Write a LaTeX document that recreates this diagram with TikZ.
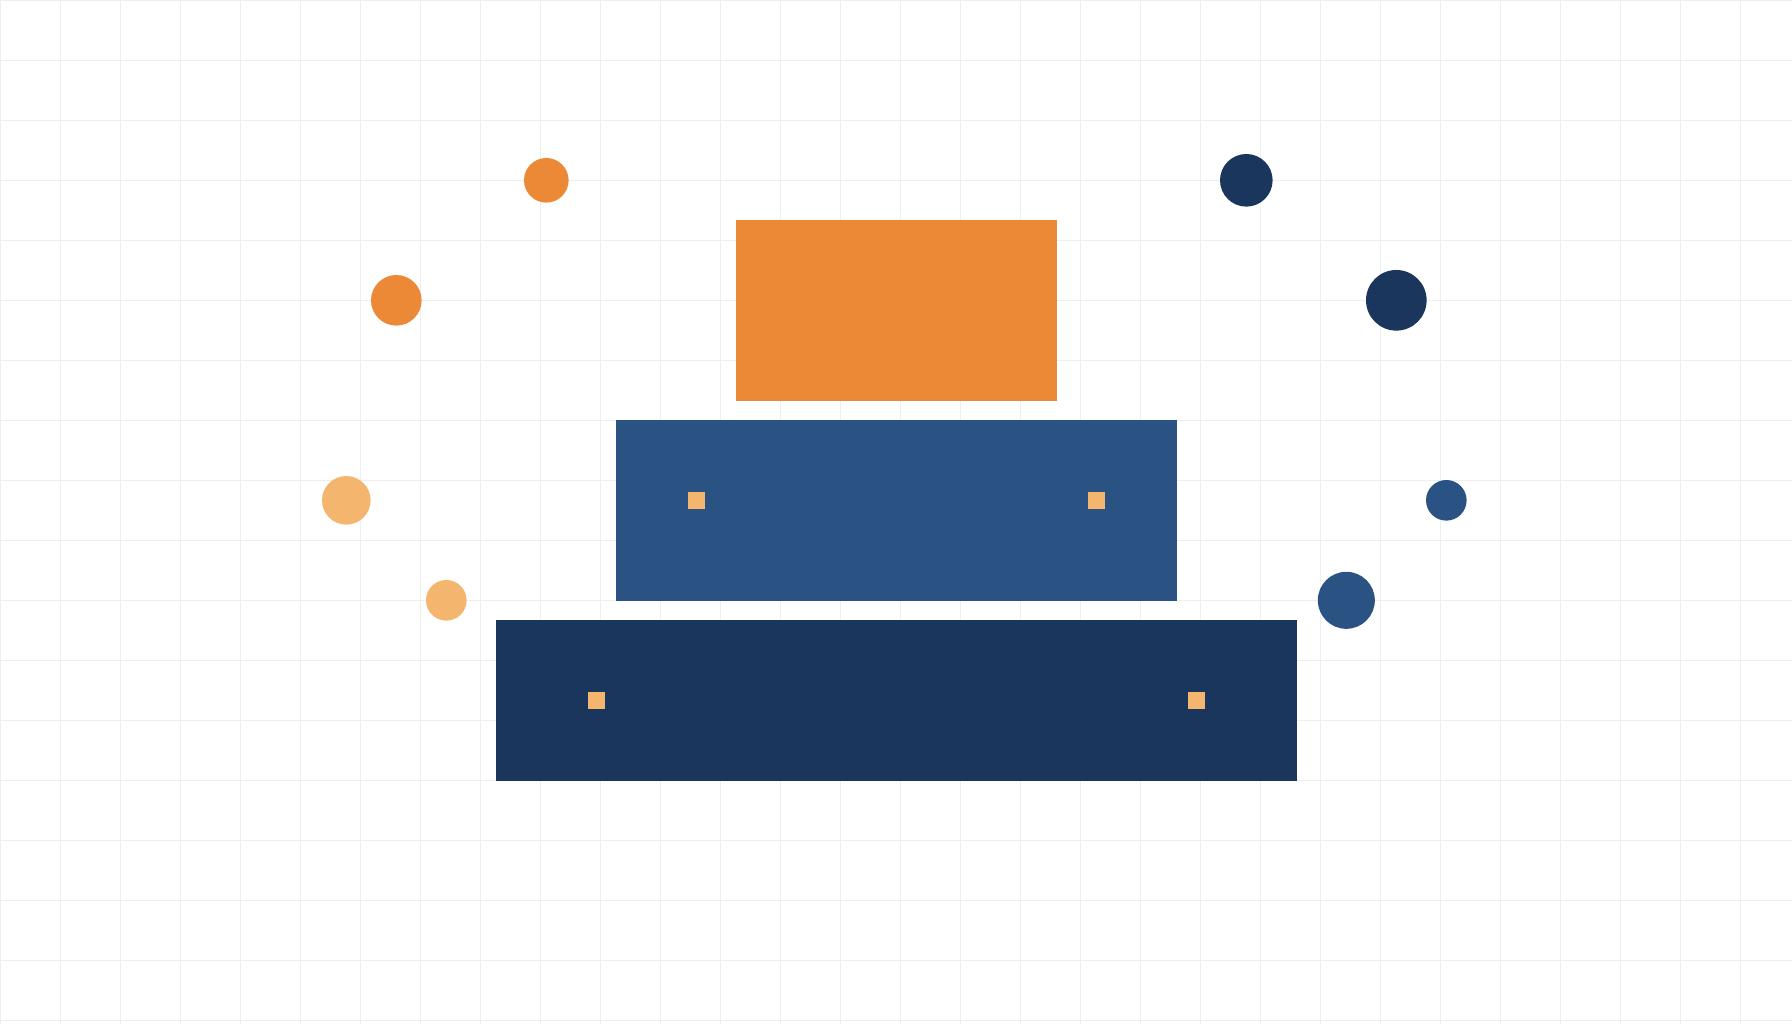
\documentclass[tikz,border=0pt]{standalone}
\definecolor{gridc}{RGB}{238,239,243}
\definecolor{orangec}{RGB}{236,137,54}
\definecolor{bluec}{RGB}{42,83,132}
\definecolor{darkc}{RGB}{27,54,93}
\definecolor{lightoc}{RGB}{244,181,110}
\begin{document}
\begin{tikzpicture}[x=0.01cm,y=-0.01cm,
  tier/.style={rectangle,inner sep=0pt,outer sep=0pt,draw=none},
  dot/.style={circle,inner sep=0pt,outer sep=0pt,draw=none},
  stud/.style={rectangle,inner sep=0pt,outer sep=0pt,draw=none,fill=lightoc,minimum width=0.17cm,minimum height=0.17cm}]
\useasboundingbox (0,0) rectangle (1792,1024);
\fill[white] (0,0) rectangle (1792,1024);
\foreach \i in {0,...,29} { \draw[gridc,line width=0.012cm] ({\i*60+0.6},0) -- ({\i*60+0.6},1024); }
\foreach \j in {0,...,17} { \draw[gridc,line width=0.012cm] (0,{\j*60+0.6}) -- (1792,{\j*60+0.6}); }
% tiers
\node[tier,fill=orangec,minimum width=3.21cm,minimum height=1.81cm] (top) at (896.5,310.3) {};
\node[tier,fill=bluec,minimum width=5.61cm,minimum height=1.81cm] (mid) at (896.5,510.3) {};
\node[tier,fill=darkc,minimum width=8.01cm,minimum height=1.61cm] (base) at (896.5,700.3) {};
% studs
\node[stud] (s1) at (696.5,500.5) {};
\node[stud] (s2) at (1096.5,500.5) {};
\node[stud] (s3) at (596.5,700.5) {};
\node[stud] (s4) at (1196.5,700.5) {};
% dots left
\node[dot,fill=orangec,minimum size=0.446cm] (o1) at (546.3,180.3) {};
\node[dot,fill=orangec,minimum size=0.506cm] (o2) at (396.3,300.3) {};
\node[dot,fill=lightoc,minimum size=0.486cm] (o3) at (346.3,500.3) {};
\node[dot,fill=lightoc,minimum size=0.406cm] (o4) at (446.3,600.3) {};
% dots right
\node[dot,fill=darkc,minimum size=0.526cm] (d1) at (1246.3,180.3) {};
\node[dot,fill=darkc,minimum size=0.606cm] (d2) at (1396.3,300.3) {};
\node[dot,fill=bluec,minimum size=0.406cm] (d3) at (1446.3,500.3) {};
\node[dot,fill=bluec,minimum size=0.57cm] (d4) at (1346.3,600.3) {};
\end{tikzpicture}
\end{document}
